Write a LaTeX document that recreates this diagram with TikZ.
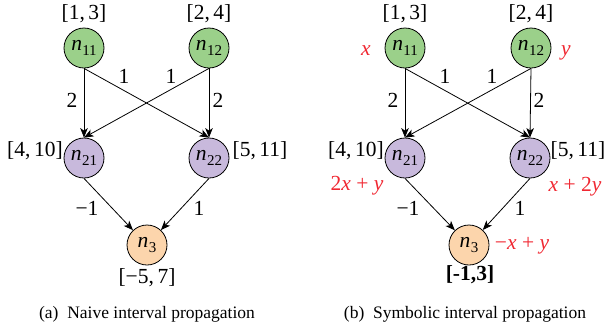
\documentclass[tikz,border=0pt]{standalone}
\usepackage{fontspec}
\setmainfont{Liberation Serif}
\usetikzlibrary{arrows.meta}
\definecolor{ngreen}{RGB}{155,208,138}
\definecolor{npurple}{RGB}{200,185,220}
\definecolor{norange}{RGB}{252,213,172}
\definecolor{sred}{RGB}{240,40,50}
\newcommand{\nv}[1]{\textit{n}\kern0.3pt\raisebox{-4.5pt}{\fontsize{15}{15}\selectfont #1}}
\newcommand{\pls}{\hspace{0.25em}+\hspace{0.25em}}
\begin{document}
\begin{tikzpicture}[x=1pt,y=-1pt,
  every node/.style={font=\fontsize{21.5}{25}\selectfont},
  neuron/.style={circle, draw, line width=0.8pt, minimum size=40pt, inner sep=0pt},
  lbl/.style={anchor=base, inner sep=0pt},
  sym/.style={lbl, text=sred},
  captext/.style={lbl, font=\fontsize{17.5}{20}\selectfont},
  arr/.style={-{Stealth[length=9.5pt,width=7.5pt,inset=2.5pt]}, line width=0.8pt}]
\useasboundingbox (0,0) rectangle (610,330);
% ---------- left panel ----------
\begin{scope}
\node[neuron, fill=ngreen] (a11) at (84,48) {\nv{11}};
\node[neuron, fill=ngreen] (a12) at (209,48) {\nv{12}};
\node[neuron, fill=npurple] (a21) at (84,158) {\nv{21}};
\node[neuron, fill=npurple] (a22) at (209,158) {\nv{22}};
\node[neuron, fill=norange] (a3) at (147,245) {\nv{3}};
\node[lbl] (ia11) at (84,19) {[1,\,3]};
\node[lbl] (ia12) at (209,19) {[2,\,4]};
\node[lbl] (ia21) at (35,156) {[4,\,10]};
\node[lbl] (ia22) at (260,156) {[5,\,11]};
\node[lbl] (ia3) at (147,283.5) {[−5,\,7]};
\draw[arr] (a11.south) -- (a21.north);
\draw[arr] (a11.south) -- (a22.north);
\draw[arr] (a12.south) -- (a21.north);
\draw[arr] (a12.south) -- (a22.north);
\draw[arr] (a21.south) -- (a3);
\draw[arr] (a22.south) -- (a3);
\node[lbl] (wa1) at (72,107) {2};
\node[lbl] (wa2) at (124,83) {1};
\node[lbl] (wa3) at (171,83) {1};
\node[lbl] (wa4) at (218,107) {2};
\node[lbl] (wa5) at (87,215) {−1};
\node[lbl] (wa6) at (199,215) {1};
\node[captext] (capa) at (147,318) {(a)\enspace Naive interval propagation};
\end{scope}
% ---------- right panel ----------
\begin{scope}[xshift=321pt]
\node[neuron, fill=ngreen] (b11) at (84,48) {\nv{11}};
\node[neuron, fill=ngreen] (b12) at (210,48) {\nv{12}};
\node[neuron, fill=npurple] (b21) at (84,158) {\nv{21}};
\node[neuron, fill=npurple] (b22) at (209,158) {\nv{22}};
\node[neuron, fill=norange] (b3) at (148,245) {\nv{3}};
\node[lbl] (ib11) at (84,19) {[1,\,3]};
\node[lbl] (ib12) at (210,19) {[2,\,4]};
\node[lbl] (ib21) at (35,156) {[4,\,10]};
\node[lbl] (ib22) at (257,156) {[5,\,11]};
\node[lbl, font=\fontsize{21.5}{25}\selectfont\bfseries] (ib3) at (149,280) {[-1,3]};
\node[sym] (sx) at (45,55) {\textit{x}};
\node[sym] (sy) at (245,55) {\textit{y}};
\node[sym] (s21) at (36,190) {2\textit{x}\pls\textit{y}};
\node[sym] (s22) at (254,191) {\textit{x}\pls 2\textit{y}};
\node[sym] (s3) at (201,249) {−\textit{x}\pls\textit{y}};
\draw[arr] (b11.south) -- (b21.north);
\draw[arr] (b11.south) -- (b22.north);
\draw[arr] (b12.south) -- (b21.north);
\draw[arr] (b12.south) -- (b22.north);
\draw[arr] (b21.south) -- (b3);
\draw[arr] (b22.south) -- (b3);
\node[lbl] (wb1) at (72,107) {2};
\node[lbl] (wb2) at (124,83) {1};
\node[lbl] (wb3) at (171,83) {1};
\node[lbl] (wb4) at (218,107) {2};
\node[lbl] (wb5) at (87,215) {−1};
\node[lbl] (wb6) at (199,215) {1};
\node[captext] (capb) at (144,318) {(b)\enspace Symbolic interval propagation};
\end{scope}
\end{tikzpicture}
\end{document}
